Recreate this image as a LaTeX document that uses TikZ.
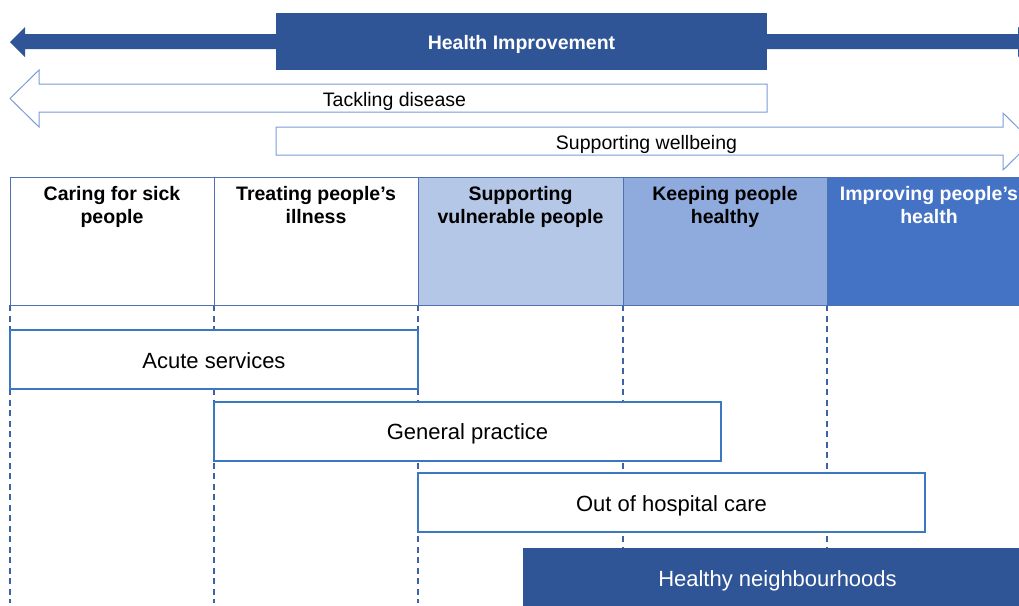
\documentclass[tikz,border=0pt]{standalone}
\usepackage{fontspec}
\setmainfont{Liberation Sans}
\definecolor{dblue}{HTML}{2F5597}
\definecolor{colA}{HTML}{B4C7E7}
\definecolor{colB}{HTML}{8FAADC}
\definecolor{colC}{HTML}{4472C4}
\definecolor{colline}{HTML}{4F71B0}
\definecolor{barline}{HTML}{3A78C0}
\definecolor{dashline}{HTML}{3D62A8}
\definecolor{arrline}{HTML}{7A9CD9}
\begin{document}
\begin{tikzpicture}[x=1pt,y=-1pt,
  colbox/.style={draw=colline, line width=1pt},
  headtxt/.style={font=\bfseries\fontsize{19.5}{23}\selectfont, align=center, inner sep=0pt, anchor=north},
  barbox/.style={draw=barline, line width=1.6pt, fill=white, font=\fontsize{22}{26}\selectfont, text height=17pt, text depth=0pt, inner sep=0pt},
  vdash/.style={draw=dashline, line width=1.3pt, dash pattern=on 6pt off 4.5pt},
  outarrow/.style={draw=arrline, line width=1pt, fill=white},
  lbl/.style={font=\fontsize{19.5}{23}\selectfont, inner sep=0pt, anchor=base}]
\useasboundingbox (0,0) rectangle (1019,605);
\clip (0,0) rectangle (1019,605);
\fill[white] (0,0) rectangle (1019,605);

% Health Improvement double arrow
\fill[dblue] (10,42) -- (25,27) -- (25,34) -- (1018,34) -- (1018,27) -- (1033,42) -- (1018,57) -- (1018,49) -- (25,49) -- (25,57) -- cycle;
\fill[dblue] (276,13) rectangle (767,70);
\node[lbl, font=\bfseries\fontsize{19.5}{23}\selectfont, text=white] (hi) at (521.5,49) {Health Improvement};

% Tackling disease arrow
\path[outarrow] (10,98.5) -- (39,70) -- (39,84) -- (767,84) -- (767,112) -- (39,112) -- (39,127) -- cycle;
\node[lbl] (td) at (394.5,106) {Tackling disease};

% Supporting wellbeing arrow
\path[outarrow] (276,127) -- (1003,127) -- (1003,113) -- (1032,141.5) -- (1003,170) -- (1003,155) -- (276,155) -- cycle;
\node[lbl] (sw) at (646.5,149.3) {Supporting wellbeing};

% dashed guide lines
\foreach \x in {10,214,418,623,827} \draw[vdash] (\x,305) -- (\x,603);

% columns
\path[colbox, fill=white] (10,177) rectangle (214,305);
\path[colbox, fill=white] (214,177) rectangle (418,305);
\path[colbox, fill=colA] (418,177) rectangle (623,305);
\path[colbox, fill=colB] (623,177) rectangle (827,305);
\path[colbox, fill=colC] (827,177) rectangle (1030,305);

\node[headtxt] (h1) at (112,186.5) {Caring for sick\\people};
\node[headtxt] (h2) at (316,186.5) {Treating people’s\\illness};
\node[headtxt] (h3) at (520.5,186.5) {Supporting\\vulnerable people};
\node[headtxt] (h4) at (725,186.5) {Keeping people\\healthy};
\node[headtxt, text=white] (h5) at (929,186.5) {Improving people’s\\health};

% bars
\node[barbox, minimum width=408pt, minimum height=59pt] (acute) at (214,359.5) {Acute services};
\node[barbox, minimum width=507pt, minimum height=59pt] (gp) at (467.5,431.2) {General practice};
\node[barbox, minimum width=507pt, minimum height=59pt] (ooh) at (671.5,502.5) {Out of hospital care};
\fill[dblue] (523,548) rectangle (1030,615);
\node[lbl, font=\fontsize{22}{26}\selectfont, text=white] (hn) at (777.5,586.7) {Healthy neighbourhoods};
\end{tikzpicture}
\end{document}
